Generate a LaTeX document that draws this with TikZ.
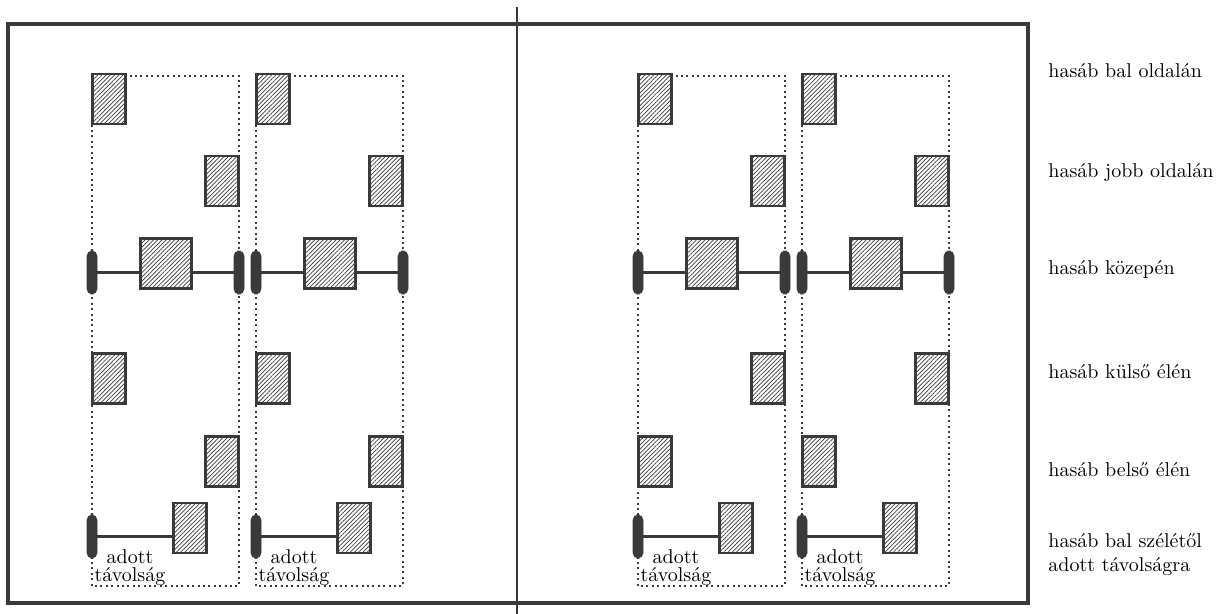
\documentclass[tikz,border=0pt]{standalone}
\usepackage{tikz}
\usetikzlibrary{positioning,patterns.meta}
\definecolor{ink}{HTML}{3A3A3A}

\begin{document}
\begin{tikzpicture}[
  x=0.5pt, y=-0.5pt,
  font=\fontsize{10}{12}\selectfont,
  frame/.style={draw=ink, line width=2pt},
  divider/.style={draw=ink, line width=1.2pt},
  guide/.style={draw=ink, line width=0.6pt, dash pattern=on 1pt off 1.7pt},
  hatchbox/.style={draw=ink, line width=1.1pt, fill=white, inner sep=0pt,
                   postaction={pattern={Lines[angle=45,distance=1.5pt,line width=0.35pt]},
                               pattern color=ink}},
  small/.style={hatchbox, minimum width=16.5pt, minimum height=25pt},
  big/.style={hatchbox, minimum width=25.5pt, minimum height=25pt},
  wheel/.style={draw=ink, fill=ink, rounded corners=2.6pt, inner sep=0pt,
                minimum width=5pt, minimum height=21.5pt},
  axle/.style={draw=ink, line width=1.1pt},
  txt/.style={text=black, inner sep=0pt},
]
\useasboundingbox (0,0) rectangle (1221,614);

\draw[frame] (8,24) rectangle (1028,603);
\draw[divider] (517,7) -- (517,614);

\foreach \g/\L/\ra/\rb in {a/92/17/130, b/256/17/130, c/638/130/17, d/802/130/17} {
  \draw[guide] (\L,76) rectangle (\L+147,586);
  \node[small] (\g1) at (\L+17,99) {};
  \node[small] (\g2) at (\L+130,181) {};
  \node[wheel] (\g3l) at (\L,272.5) {};
  \node[wheel] (\g3r) at (\L+147,272.5) {};
  \draw[axle] (\g3l) -- (\g3r);
  \node[big] (\g3) at (\L+74,263.5) {};
  \node[small] (\g4) at (\L+\ra,378.5) {};
  \node[small] (\g5) at (\L+\rb,461.5) {};
  \node[wheel] (\g6l) at (\L,536.5) {};
  \node[small] (\g6) at (\L+98,528) {};
  \draw[axle] (\g6l) -- (\g6l -| \g6.west);
  \node[txt, align=center, font=\fontsize{10}{9}\selectfont] (\g6t) at (\L+38,568) {adott\\távolság};
}

% row labels
\node[txt, anchor=west] (lbal)   at (1048,71)  {hasáb bal oldalán};
\node[txt, anchor=west] (ljobb)  at (1048,173) {hasáb jobb oldalán};
\node[txt, anchor=west] (lkozep) at (1048,269) {hasáb közepén};
\node[txt, anchor=west] (lkulso) at (1048,372) {hasáb külső élén};
\node[txt, anchor=west] (lbelso) at (1048,470) {hasáb belső élén};
\node[txt, anchor=west, align=left] (ltav) at (1048,555) {hasáb bal szélétől\\adott távolságra};

\end{tikzpicture}
\end{document}
